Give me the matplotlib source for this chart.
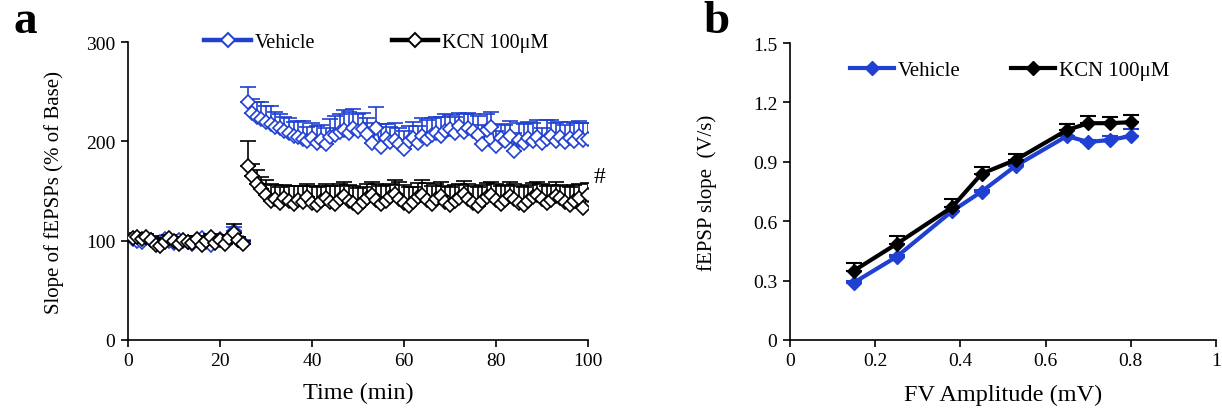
import matplotlib
matplotlib.use("Agg")
import matplotlib.pyplot as plt
from matplotlib.lines import Line2D
import numpy as np

plt.rcParams['font.family'] = ['Liberation Serif', 'DejaVu Serif']

# ---------------- Panel a data ----------------
base_time = list(range(1, 26))
post_time = list(range(26, 101))

veh_base = [102, 100, 99, 103, 101, 97, 99, 102, 100, 98, 101, 100, 99, 97, 101,
            103, 99, 96, 100, 102, 99, 103, 110, 101, 98]
veh_base_err = [3, 3, 4, 3, 3, 4, 3, 3, 4, 3, 3, 4, 3, 3, 4, 3, 3, 4, 3, 3, 4, 3, 4, 3, 3]
kcn_base = [103, 104, 102, 104, 101, 96, 95, 99, 103, 100, 97, 101, 99, 98, 102,
            96, 100, 104, 98, 101, 97, 103, 108, 101, 97]
kcn_base_err = [3, 4, 3, 3, 4, 3, 3, 4, 3, 3, 4, 3, 3, 4, 3, 3, 4, 3, 3, 4, 3, 3, 9, 3, 3]

veh_post = [240, 229, 224, 222, 219, 217, 214, 213, 210, 208,
            205, 204, 202, 200, 203, 198, 201, 197, 204, 206,
            209, 211, 208, 213, 210, 212, 207, 198, 213, 194,
            203, 199, 201, 197, 192, 200, 203, 198, 205, 202,
            206, 208, 205, 210, 212, 208, 215, 209, 213, 210,
            206, 197, 211, 214, 195, 203, 200, 205, 190, 201,
            198, 203, 200, 204, 198, 202, 205, 200, 204, 199,
            203, 200, 205, 201, 202]
veh_post_err = [15, 14, 16, 18, 17, 19, 16, 15, 14, 15,
                14, 16, 18, 14, 15, 17, 15, 16, 18, 20,
                19, 21, 22, 20, 18, 17, 16, 20, 22, 23,
                14, 15, 17, 16, 18, 15, 16, 17, 18, 19,
                17, 16, 19, 18, 15, 17, 14, 19, 16, 18,
                20, 19, 17, 16, 15, 14, 16, 15, 18, 17,
                19, 16, 18, 17, 15, 19, 16, 18, 15, 17,
                16, 18, 15, 17, 16]
kcn_post = [175, 165, 157, 152, 146, 140, 142, 138, 143, 140,
            137, 141, 139, 144, 138, 136, 140, 143, 139, 137,
            142, 145, 140, 138, 134, 139, 143, 146, 141, 137,
            140, 144, 147, 142, 138, 135, 139, 144, 146, 141,
            137, 142, 145, 139, 136, 140, 143, 147, 142, 138,
            135, 140, 144, 146, 141, 137, 141, 145, 142, 138,
            136, 140, 144, 146, 142, 138, 141, 145, 143, 139,
            136, 140, 143, 133, 146]
kcn_post_err = [25, 12, 14, 12, 15, 17, 14, 16, 13, 15,
                18, 14, 16, 13, 17, 18, 15, 14, 16, 18,
                15, 14, 16, 17, 19, 15, 14, 13, 16, 18,
                16, 13, 14, 17, 18, 19, 15, 14, 15, 17,
                18, 15, 14, 16, 18, 16, 14, 13, 15, 17,
                19, 16, 14, 13, 16, 18, 15, 14, 15, 17,
                18, 16, 14, 13, 15, 17, 15, 14, 13, 16,
                18, 16, 14, 13, 12]

# ---------------- Panel b data ----------------
fv_amp = [0.15, 0.25, 0.38, 0.45, 0.53, 0.65, 0.70, 0.75, 0.80]
veh_io = [0.29, 0.42, 0.65, 0.75, 0.88, 1.03, 1.00, 1.01, 1.03]
veh_io_err = [0.01, 0.01, 0.02, 0.01, 0.01, 0.06, 0.01, 0.02, 0.035]
kcn_io = [0.35, 0.485, 0.67, 0.84, 0.91, 1.06, 1.095, 1.095, 1.10]
kcn_io_err = [0.04, 0.04, 0.04, 0.035, 0.03, 0.03, 0.035, 0.03, 0.035]

BLUE = '#1f40d0'
BLACK = '#000000'

fig = plt.figure(figsize=(12.22, 4.10), dpi=100)
axa = fig.add_axes([128/1222, 1-341/410, 460/1222, 298/410])
axb = fig.add_axes([790/1222, 1-341/410, 426/1222, 297/410])

def up_err(ax, x, y, e, color, z):
    ax.errorbar(x, y, yerr=[np.zeros(len(e)), e], fmt='none', ecolor=color,
                elinewidth=1.2, capsize=6, capthick=1.2, zorder=z)
    ax.plot(x, y, color=color, lw=1.3, marker='D', markersize=7,
            markerfacecolor='white', markeredgecolor=color, markeredgewidth=1.2,
            zorder=z + 0.5)

for xs, ys, es in [(base_time, veh_base, veh_base_err), (post_time, veh_post, veh_post_err)]:
    up_err(axa, xs, ys, es, BLUE, 2)
for xs, ys, es in [(base_time, kcn_base, kcn_base_err), (post_time, kcn_post, kcn_post_err)]:
    up_err(axa, xs, ys, es, BLACK, 4)

axa.set_xlim(0, 100)
axa.set_ylim(0, 300)
axa.set_xticks([0, 20, 40, 60, 80, 100])
axa.set_yticks([0, 100, 200, 300])
axa.set_xlabel('Time (min)', fontsize=17.5)
axa.set_ylabel('Slope of fEPSPs (% of Base)', fontsize=15)
axa.xaxis.set_label_coords(0.5, -0.14)
axa.yaxis.set_label_coords(-0.139, 0.5)
axa.text(101.3, 165, '#', fontsize=17, ha='left', va='center')

ha = [Line2D([], [], color=BLUE, lw=3.2, marker='D', markersize=7.5, markerfacecolor='white',
             markeredgecolor=BLUE, markeredgewidth=1.4),
      Line2D([], [], color=BLACK, lw=3.2, marker='D', markersize=7.5, markerfacecolor='white',
             markeredgecolor=BLACK, markeredgewidth=1.4)]
axa.legend(ha, ['Vehicle', 'KCN 100μM'], loc='center', bbox_to_anchor=(0.54, 1.0),
           ncol=2, frameon=False, fontsize=14.5, handlelength=2.3, handletextpad=0.2,
           columnspacing=3.8, borderaxespad=0)

# Panel b
axb.errorbar(fv_amp, veh_io, yerr=[np.zeros(len(veh_io_err)), veh_io_err], fmt='none',
             ecolor=BLUE, elinewidth=1.5, capsize=6, capthick=1.5, zorder=2)
axb.plot(fv_amp, veh_io, color=BLUE, lw=3, marker='D', markersize=7, zorder=3)
axb.errorbar(fv_amp, kcn_io, yerr=[np.zeros(len(kcn_io_err)), kcn_io_err], fmt='none',
             ecolor=BLACK, elinewidth=1.5, capsize=6, capthick=1.5, zorder=4)
axb.plot(fv_amp, kcn_io, color=BLACK, lw=3, marker='D', markersize=7, zorder=5)

axb.set_xlim(0, 1)
axb.set_ylim(0, 1.5)
axb.set_xticks([0, 0.2, 0.4, 0.6, 0.8, 1.0])
axb.set_xticklabels(['0', '0.2', '0.4', '0.6', '0.8', '1'])
axb.set_yticks([0, 0.3, 0.6, 0.9, 1.2, 1.5])
axb.set_yticklabels(['0', '0.3', '0.6', '0.9', '1.2', '1.5'])
axb.set_xlabel('FV Amplitude (mV)', fontsize=17.5)
axb.set_ylabel('fEPSP slope  (V/s)', fontsize=15)
axb.xaxis.set_label_coords(0.5, -0.148)
axb.yaxis.set_label_coords(-0.171, 0.5)

hb = [Line2D([], [], color=BLUE, lw=3, marker='D', markersize=7),
      Line2D([], [], color=BLACK, lw=3, marker='D', markersize=7)]
axb.legend(hb, ['Vehicle', 'KCN 100μM'], loc='center', bbox_to_anchor=(0.516, 0.909),
           ncol=2, frameon=False, fontsize=15, handlelength=2.1, handletextpad=0.2,
           columnspacing=2.4, borderaxespad=0)

for ax in (axa, axb):
    for s in ('top', 'right'):
        ax.spines[s].set_visible(False)
    for s in ('left', 'bottom'):
        ax.spines[s].set_linewidth(1.2)
    ax.tick_params(axis='both', labelsize=14, width=1.2, length=5, direction='out', pad=4)

fig.text(25/1222, 1-22/410, 'a', fontsize=34, fontweight='bold', ha='center', va='center')
fig.text(717/1222, 1-22/410, 'b', fontsize=34, fontweight='bold', ha='center', va='center')

fig.savefig('out.png', dpi=100)
